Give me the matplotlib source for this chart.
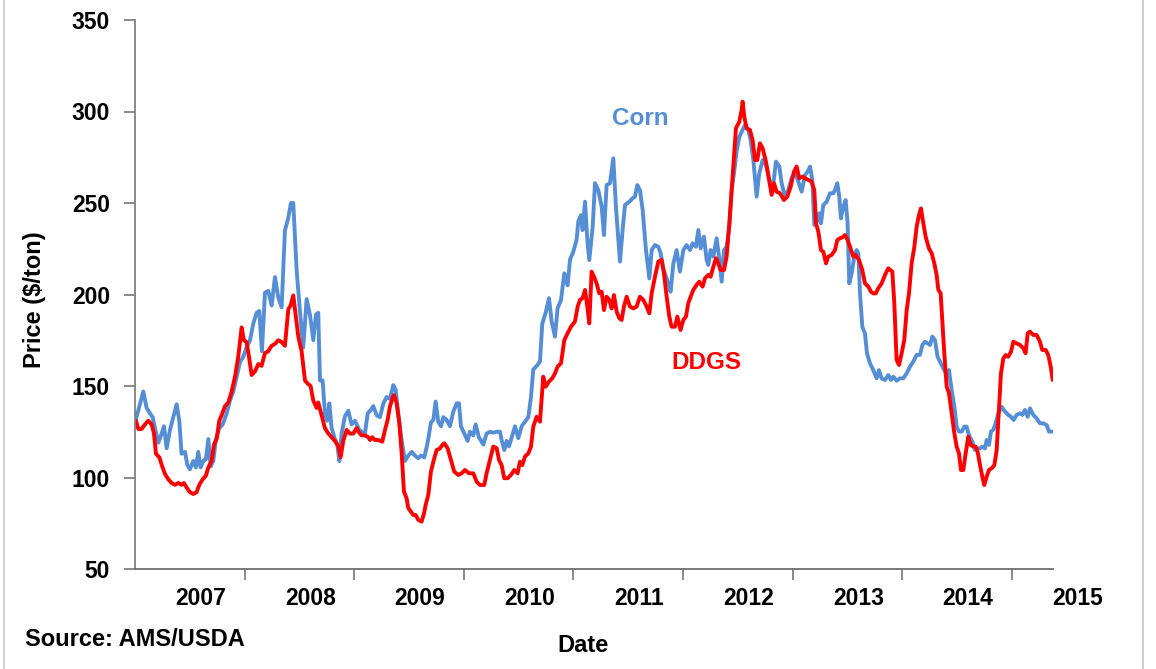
import matplotlib
matplotlib.use("Agg")
import matplotlib.pyplot as plt
import matplotlib.transforms as mtransforms
from matplotlib.lines import Line2D

plt.rcParams["font.family"] = ["Liberation Sans", "DejaVu Sans"]
plt.rcParams["font.weight"] = "bold"

# -----------------------------------------------------
# DATA (decimal year, $/ton)
# -----------------------------------------------------

corn_dates = [
    2007.009, 2007.076, 2007.106, 2007.137, 2007.161, 2007.182, 2007.213, 2007.243,
    2007.264, 2007.289, 2007.319, 2007.349, 2007.380, 2007.404, 2007.425, 2007.456,
    2007.477, 2007.501, 2007.532, 2007.556, 2007.577, 2007.599, 2007.623, 2007.647,
    2007.669, 2007.690, 2007.714, 2007.739, 2007.769, 2007.800, 2007.836, 2007.866,
    2007.897, 2007.927, 2007.958, 2007.988, 2008.018, 2008.049, 2008.079, 2008.110,
    2008.134, 2008.158, 2008.186, 2008.216, 2008.247, 2008.277, 2008.307, 2008.338,
    2008.368, 2008.399, 2008.423, 2008.444, 2008.475, 2008.505, 2008.535, 2008.566,
    2008.596, 2008.627, 2008.651, 2008.672, 2008.688, 2008.712, 2008.733, 2008.754,
    2008.773, 2008.794, 2008.824, 2008.846, 2008.864, 2008.885, 2008.916, 2008.946,
    2008.976, 2009.007, 2009.046,
    2009.068, 2009.098, 2009.123, 2009.153, 2009.174, 2009.205, 2009.235, 2009.266,
    2009.296, 2009.326, 2009.357, 2009.378, 2009.402, 2009.433, 2009.463, 2009.494,
    2009.524, 2009.554, 2009.585, 2009.609, 2009.640, 2009.670, 2009.700, 2009.722,
    2009.743, 2009.767, 2009.792, 2009.813, 2009.843, 2009.874, 2009.904, 2009.935,
    2009.956, 2009.974, 2010.005, 2010.035, 2010.056, 2010.087, 2010.108, 2010.138,
    2010.178, 2010.208, 2010.239, 2010.269, 2010.300, 2010.330, 2010.345, 2010.370,
    2010.391, 2010.412, 2010.443, 2010.467, 2010.497, 2010.528, 2010.558, 2010.589,
    2010.613, 2010.634, 2010.665, 2010.695, 2010.716, 2010.747, 2010.777, 2010.801,
    2010.832, 2010.856, 2010.887, 2010.917, 2010.947, 2010.969, 2010.999, 2011.029,
    2011.045, 2011.069,
    2011.084, 2011.106, 2011.127, 2011.145, 2011.176, 2011.197, 2011.227, 2011.258,
    2011.279, 2011.303, 2011.334, 2011.364, 2011.388, 2011.425, 2011.449, 2011.471,
    2011.510, 2011.541, 2011.562, 2011.583, 2011.607, 2011.632, 2011.662, 2011.693,
    2011.714, 2011.744, 2011.775, 2011.796, 2011.820, 2011.845, 2011.866, 2011.887,
    2011.912, 2011.942, 2011.972, 2012.003, 2012.033, 2012.064, 2012.088, 2012.118,
    2012.140, 2012.161, 2012.191, 2012.216, 2012.231, 2012.252, 2012.277, 2012.307,
    2012.331, 2012.353, 2012.374, 2012.398, 2012.423, 2012.444, 2012.465, 2012.489,
    2012.514, 2012.544, 2012.565, 2012.596, 2012.617, 2012.642, 2012.672, 2012.696,
    2012.727, 2012.757, 2012.788, 2012.818, 2012.848, 2012.879, 2012.900, 2012.930,
    2012.961, 2012.991, 2013.022, 2013.052, 2013.083,
    2013.113, 2013.137, 2013.159, 2013.180, 2013.198, 2013.219, 2013.241, 2013.259,
    2013.280, 2013.311, 2013.341, 2013.372, 2013.393, 2013.408, 2013.426, 2013.441,
    2013.463, 2013.484, 2013.502, 2013.517, 2013.539, 2013.563, 2013.584, 2013.600,
    2013.615, 2013.636, 2013.660, 2013.679, 2013.706, 2013.736, 2013.767, 2013.788,
    2013.812, 2013.843, 2013.873, 2013.898, 2013.919, 2013.949, 2013.980, 2014.010,
    2014.041, 2014.071, 2014.101, 2014.132, 2014.162, 2014.184, 2014.208, 2014.232,
    2014.254, 2014.275, 2014.299, 2014.323, 2014.345, 2014.375, 2014.406, 2014.427,
    2014.451, 2014.476, 2014.497, 2014.518, 2014.543, 2014.567, 2014.588, 2014.609,
    2014.640, 2014.664, 2014.688, 2014.710, 2014.731, 2014.755, 2014.771, 2014.792,
    2014.810, 2014.831, 2014.853, 2014.877, 2014.907, 2014.938, 2014.968, 2014.993,
    2015.017, 2015.044, 2015.075, 2015.096, 2015.120, 2015.145, 2015.166, 2015.196,
    2015.227, 2015.257, 2015.288, 2015.318, 2015.339, 2015.370,
]

corn_price = [
    132, 147, 138, 135, 133, 127, 119, 124,
    128, 116, 126, 133, 140, 131, 113, 114,
    107, 104.5, 109, 105.5, 114, 105.5, 109, 110,
    121, 106, 109, 121, 127, 129, 135, 142,
    147, 155, 163, 166, 171, 175, 184, 190,
    191, 169, 201, 202, 194, 209.5, 198.5, 193,
    235, 242, 250, 250, 213, 191, 171, 197.5,
    189, 175, 189, 190, 153, 153, 135, 131,
    140.5, 127, 121, 118, 109, 124, 133.5, 136.5,
    129, 131, 126,
    125, 124, 135, 137, 139, 134, 133, 140.5,
    144, 143, 150.5, 148, 135, 120.5, 109, 112,
    114, 112, 110.5, 112, 111, 119, 130, 131.5,
    141.5, 130.5, 128, 133, 131.5, 128, 136, 140.5,
    140.5, 128, 124, 120, 125, 123, 129, 122,
    118, 124, 125, 124.5, 125, 125, 120.5, 115,
    120, 117, 123, 128, 121.5, 128, 130.5, 133,
    144, 159, 161, 163.3, 184, 190, 198, 185.5,
    177, 192.5, 197, 211.6, 205, 219, 223.4, 229.8,
    240, 243.4,
    235.2, 250.7, 229.8, 218.8, 237, 260.8, 257.1, 248,
    232.5, 259.8, 260.8, 274.4, 248, 218, 235.2, 248.9,
    250.7, 252.6, 253.5, 259.8, 257.1, 246.2, 224.3, 208.8,
    224.3, 227, 226.1, 222.5, 214.3, 209.7, 206.1, 201.5,
    217, 224.3, 212.5, 224.3, 227, 224.3, 228, 226.1,
    235.2, 225.2, 231.6, 218.9, 216.1, 224.3, 220.7, 230.7,
    219.8, 207, 224.3, 226.1, 237.1, 257.1, 266.2, 278.1,
    286.2, 289.9, 292.6, 289.9, 284.4, 273.5, 253.5, 266.2,
    273.5, 270.8, 262.6, 257.1, 272.6, 269.9, 260.8, 253.5,
    257.1, 263.5, 267.1, 261.7, 256.2,
    265.3, 267.1, 269.9, 262.6, 238, 239.8, 244.4, 238.9,
    248.9, 250.7, 255.3, 255.3, 258, 260.8, 253.5, 241.6,
    248, 251.6, 238.9, 206.1, 211.6, 220.7, 224.3, 222.5,
    200.6, 182.4, 178.8, 167.9, 162.4, 158.7, 154.2, 158.7,
    154.2, 153.3, 156, 153.3, 155.1, 152.9, 154.2, 154.2,
    156.9, 160.6, 163.3, 167, 167, 172.4, 174.2, 173.3,
    172.4, 177, 175.1, 166, 163.3, 159.7, 156, 158.7,
    147.8, 138.7, 127.8, 125.1, 125.1, 127.8, 127.8, 123.2,
    119.6, 115, 115.9, 115.9, 116.9, 115.9, 120.5, 117.8,
    125.1, 126, 129.6, 135.1, 138.7, 136, 134.2, 133.2,
    131.4, 134.2, 135.1, 134.2, 136.9, 133.2, 137.8, 134.2,
    132.3, 129.6, 129.6, 128.7, 125.1, 125.1,
]

ddgs_dates = [
    2007.009, 2007.030, 2007.060, 2007.091, 2007.121, 2007.152, 2007.173, 2007.191,
    2007.222, 2007.243, 2007.273, 2007.304, 2007.334, 2007.365, 2007.395, 2007.425,
    2007.447, 2007.471, 2007.501, 2007.532, 2007.562, 2007.587, 2007.617, 2007.647,
    2007.669, 2007.699, 2007.720, 2007.745, 2007.769, 2007.790, 2007.821, 2007.851,
    2007.882, 2007.912, 2007.942, 2007.973, 2007.994, 2008.018, 2008.040, 2008.064,
    2008.095, 2008.125, 2008.155, 2008.186, 2008.216, 2008.247, 2008.277, 2008.307,
    2008.338, 2008.368, 2008.399, 2008.420, 2008.444, 2008.469, 2008.490, 2008.520,
    2008.551, 2008.581, 2008.602, 2008.627, 2008.657, 2008.672, 2008.703, 2008.733,
    2008.764, 2008.794, 2008.824, 2008.855, 2008.876, 2008.900, 2008.931, 2008.961,
    2008.992, 2009.022, 2009.046,
    2009.068, 2009.098, 2009.129, 2009.144, 2009.165, 2009.189, 2009.220, 2009.256,
    2009.281, 2009.305, 2009.326, 2009.348, 2009.363, 2009.387, 2009.412, 2009.433,
    2009.454, 2009.478, 2009.494, 2009.518, 2009.539, 2009.561, 2009.585, 2009.615,
    2009.637, 2009.652, 2009.676, 2009.700, 2009.722, 2009.752, 2009.783, 2009.804,
    2009.822, 2009.852, 2009.883, 2009.913, 2009.950, 2009.980, 2010.011, 2010.047,
    2010.087, 2010.117, 2010.148, 2010.187, 2010.208, 2010.239, 2010.269, 2010.300,
    2010.321, 2010.345, 2010.369, 2010.400, 2010.430, 2010.461, 2010.491, 2010.512,
    2010.534, 2010.558, 2010.589, 2010.613, 2010.634, 2010.665, 2010.695, 2010.725,
    2010.747, 2010.777, 2010.807, 2010.832, 2010.856, 2010.887, 2010.917, 2010.947,
    2010.978, 2011.014, 2011.039, 2011.060,
    2011.084, 2011.106, 2011.127, 2011.145, 2011.166, 2011.188, 2011.212, 2011.236,
    2011.258, 2011.279, 2011.303, 2011.328, 2011.349, 2011.370, 2011.395, 2011.419,
    2011.440, 2011.461, 2011.486, 2011.516, 2011.547, 2011.577, 2011.607, 2011.638,
    2011.668, 2011.693, 2011.714, 2011.744, 2011.775, 2011.805, 2011.826, 2011.851,
    2011.875, 2011.896, 2011.927, 2011.948, 2011.978, 2012.003, 2012.027, 2012.048,
    2012.070, 2012.094, 2012.124, 2012.149, 2012.179, 2012.200, 2012.231, 2012.252,
    2012.277, 2012.301, 2012.322, 2012.343, 2012.374, 2012.398, 2012.423, 2012.444,
    2012.465, 2012.483, 2012.514, 2012.535, 2012.544, 2012.559, 2012.581, 2012.611,
    2012.635, 2012.657, 2012.678, 2012.702, 2012.727, 2012.757, 2012.778, 2012.809,
    2012.830, 2012.854, 2012.885, 2012.921, 2012.952, 2012.982, 2013.013, 2013.037,
    2013.061, 2013.092,
    2013.113, 2013.143, 2013.174, 2013.198, 2013.213, 2013.235, 2013.259, 2013.280,
    2013.305, 2013.326, 2013.356, 2013.387, 2013.408, 2013.432, 2013.454, 2013.478,
    2013.502, 2013.524, 2013.554, 2013.575, 2013.606, 2013.636, 2013.660, 2013.691,
    2013.715, 2013.736, 2013.758, 2013.782, 2013.813, 2013.843, 2013.873, 2013.910,
    2013.928, 2013.949, 2013.971, 2013.995, 2014.019, 2014.041, 2014.062, 2014.086,
    2014.111, 2014.132, 2014.153, 2014.171, 2014.193, 2014.214, 2014.244, 2014.269,
    2014.293, 2014.314, 2014.330, 2014.351, 2014.366, 2014.384, 2014.406, 2014.427,
    2014.451, 2014.476, 2014.497, 2014.518, 2014.536, 2014.558, 2014.579, 2014.603,
    2014.625, 2014.649, 2014.670, 2014.688, 2014.710, 2014.731, 2014.749, 2014.771,
    2014.792, 2014.816, 2014.841, 2014.862, 2014.877, 2014.901, 2014.923, 2014.944,
    2014.968, 2014.993, 2015.014, 2015.044, 2015.075, 2015.105, 2015.126, 2015.145,
    2015.166, 2015.196, 2015.227, 2015.257, 2015.278, 2015.309, 2015.333, 2015.355,
    2015.373,
]

ddgs_price = [
    131, 126.5, 126.5, 129, 131, 129, 124, 113,
    111, 107, 102, 99, 97, 96, 97, 96,
    97, 94.5, 92, 91, 92, 96, 99, 101,
    105.5, 109, 118, 121, 131, 134, 139, 141,
    147, 155, 166, 182, 175, 174, 166, 156,
    158, 162, 161, 168, 169, 172, 173, 175,
    174, 172, 192, 194, 199.5, 187.5, 177, 169,
    153, 151, 150, 142, 138, 141, 134, 127,
    124, 122, 120, 117, 111, 120, 126, 124,
    124, 127, 124.5,
    123, 123, 122, 120.5, 122, 120.5, 120.5, 119.6,
    126, 131.4, 138.7, 143.3, 145, 140.5, 129.6, 113.2,
    92.3, 88.6, 83.2, 81.3, 79.5, 79.5, 76.8, 75.9,
    80.4, 85, 90.4, 103.2, 108.6, 115, 115.9, 117.8,
    118.7, 116, 109.6, 103.2, 101.4, 102.3, 104.1, 102.3,
    102.3, 97.7, 95.9, 95.9, 102.3, 109.6, 116.9, 116,
    109.6, 106.8, 99.6, 99.6, 101.4, 104.1, 102.3, 108.6,
    106.8, 111.4, 113.2, 116.9, 127.8, 133.2, 130.5, 155.1,
    149.6, 152.4, 154.2, 156.9, 160.6, 162.4, 175.1, 178.8,
    182.4, 185.2, 193.4, 197,
    198, 202.5, 193.4, 184.2, 212.5, 209.7, 206.1, 200.6,
    201.5, 191.5, 198.8, 197, 192.4, 199.7, 190.6, 187,
    186.1, 193.4, 198.8, 193.4, 192.4, 193.4, 198.8, 197,
    193.4, 189.7, 200.6, 209.7, 218, 218.9, 211.6, 198.8,
    187.9, 182.4, 182.4, 187.9, 180.6, 186.1, 187.9, 195.2,
    198.8, 202.5, 205.2, 207, 204.3, 208.8, 210.7, 209.7,
    215.2, 219.8, 217, 213.4, 213.4, 220.7, 238.9, 257.1,
    275.3, 290.8, 294.5, 300.8, 305.4, 297.2, 290.8, 289.9,
    284.4, 273.5, 273.5, 282.6, 279.9, 272.6, 265.3, 254.4,
    260.8, 256.2, 255.3, 251.6, 253.5, 258.9, 267.1, 269.9,
    263.5, 264.4,
    263.5, 262.6, 261.7, 257.1, 238.9, 234.3, 224.3, 223.4,
    217, 220.7, 221.6, 224.3, 229.8, 230.7, 231.2, 232.5,
    229.8, 226.1, 220.7, 221.6, 218.9, 213.4, 206.1, 204.3,
    201.5, 200.6, 200.6, 203.4, 206.1, 210.7, 214.3, 212.5,
    195.2, 164.2, 161.5, 167.9, 175.1, 191.5, 200.6, 217,
    226.1, 237.1, 243.4, 247.1, 238.9, 231.6, 225.2, 222.5,
    217, 210.7, 202.5, 200.6, 186.1, 167.9, 149.6, 146,
    135.1, 124.1, 116.9, 113.2, 104.1, 104.1, 113.2, 122.3,
    117.8, 116.9, 116.9, 114.1, 106.8, 100.5, 95.9, 100.5,
    104.1, 105, 106.8, 115, 131.4, 156.9, 165.1, 166.9,
    166, 168.8, 174.2, 173.3, 172.4, 170.6, 167.9, 178.8,
    179.7, 177.9, 177.9, 174.2, 169.7, 169.7, 166.9, 160.6,
    153.3,
]

tick_years = [2008, 2009, 2010, 2011, 2012, 2013, 2014, 2015]
label_years = [2007, 2008, 2009, 2010, 2011, 2012, 2013, 2014, 2015]
y_ticks = [50, 100, 150, 200, 250, 300, 350]

corn_color = "#558ED5"
ddgs_color = "#FF0000"
axis_gray = "#808080"

# -----------------------------------------------------
# FIGURE
# -----------------------------------------------------

fig = plt.figure(figsize=(11.56, 6.69), dpi=100)
ax = fig.add_axes([135 / 1156, 1 - 569 / 669, 918 / 1156, 549 / 669])

ax.plot(corn_dates, corn_price, color=corn_color, linewidth=2.8,
        solid_joinstyle="round", solid_capstyle="round")
ax.plot(ddgs_dates, ddgs_price, color=ddgs_color, linewidth=2.8,
        solid_joinstyle="round", solid_capstyle="round")

ax.set_xlim(2007.0, 2015.376)
ax.set_ylim(50, 350)
ax.set_yticks(y_ticks)
ax.set_xticks(tick_years)
ax.set_xticklabels([])

for side in ["top", "right"]:
    ax.spines[side].set_visible(False)
ax.spines["left"].set_color(axis_gray)
ax.spines["bottom"].set_color("#6e6e6e")
ax.spines["left"].set_linewidth(1.3)
ax.spines["bottom"].set_linewidth(1.3)

ax.tick_params(axis="y", direction="out", length=8, width=1.3, color=axis_gray,
               labelsize=16.5, pad=10)
ax.tick_params(axis="x", direction="out", length=8, width=1.3, color=axis_gray)
for lbl in ax.get_yticklabels():
    lbl.set_fontweight("bold")

# year labels sit a bit after each year start (as in the source chart)
trans = mtransforms.blended_transform_factory(ax.transData, ax.transAxes)
for yr in label_years:
    ax.text(yr + 0.6, -0.053, str(yr), transform=trans, ha="center", va="center",
            fontsize=16.5, fontweight="bold", clip_on=False)

# -----------------------------------------------------
# TEXT
# -----------------------------------------------------

ax.text(2011.61, 296, "Corn", color=corn_color, fontsize=17.5, fontweight="bold",
        ha="center", va="center")
ax.text(2012.21, 163, "DDGS", color=ddgs_color, fontsize=17.5, fontweight="bold",
        ha="center", va="center")

fig.text(35 / 1156, 1 - 300 / 669, "Price ($/ton)", rotation=90, fontsize=17,
         fontweight="bold", ha="center", va="center")
fig.text(583 / 1156, 1 - 645 / 669, "Date", fontsize=17, fontweight="bold",
         ha="center", va="center")
fig.text(25 / 1156, 1 - 640 / 669, "Source: AMS/USDA", fontsize=17,
         fontweight="bold", ha="left", va="center")

# light frame lines at the picture edges
fig.add_artist(Line2D([3.5 / 1156, 3.5 / 1156], [0, 1], color="#c8c8c8", linewidth=1.2))
fig.add_artist(Line2D([1142.5 / 1156, 1142.5 / 1156], [0, 1], color="#c8c8c8", linewidth=1.2))

plt.savefig("out.png", dpi=100)
